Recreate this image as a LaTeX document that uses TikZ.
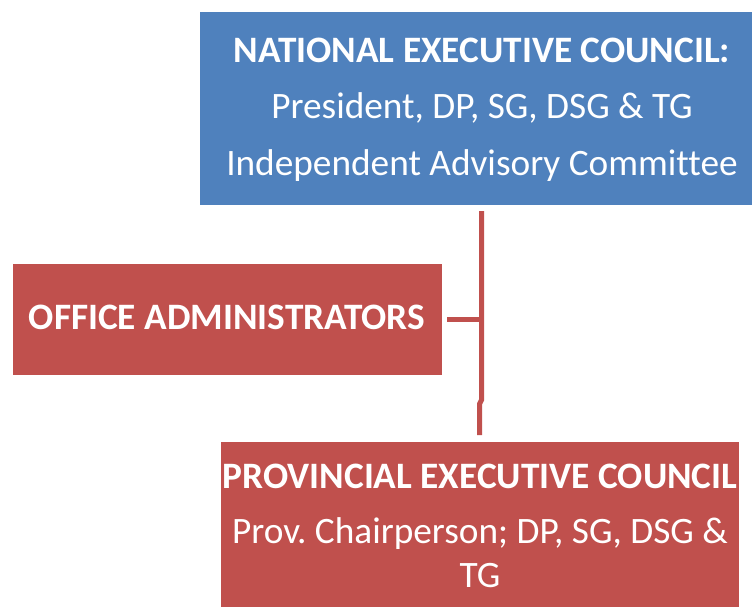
\documentclass[tikz,border=0pt]{standalone}
\usepackage{fontspec}
\setmainfont{Carlito}[Ligatures=NoCommon]
\frenchspacing
\definecolor{nblue}{HTML}{4F81BD}
\definecolor{nred}{HTML}{C0504D}
\begin{document}
\begin{tikzpicture}[x=1pt,y=-1pt,
  box/.style={draw=none, inner sep=0pt, outer sep=0pt, anchor=north west},
  bluebox/.style={box, fill=nblue},
  redbox/.style={box, fill=nred},
  txt/.style={anchor=base, text=white, inner sep=0pt, font=\fontsize{37.3}{44}\selectfont},
  txtb/.style={txt, font=\fontsize{37.3}{44}\selectfont\bfseries},
  conn/.style={draw=nred, line width=5pt}]
\useasboundingbox (0,0) rectangle (752,606);
\node[bluebox, minimum width=565pt, minimum height=193pt] (nec) at (200,12) {};
\node[redbox, minimum width=429pt, minimum height=111pt] (oa) at (13,264) {};
\node[redbox, minimum width=518pt, minimum height=175pt] (pec) at (221,442) {};
\node[txtb] (t1) at (482,62) {NATIONAL EXECUTIVE COUNCIL:};
\node[txt] (t2) at (482,118) {President, DP, SG, DSG \& TG};
\node[txt] (t3) at (482,175) {Independent Advisory Committee};
\node[txtb] (t4) at (227,329) {OFFICE ADMINISTRATORS};
\node[txtb] (t5) at (480,488) {PROVINCIAL EXECUTIVE COUNCIL};
\node[txt] (t6) at (480,543) {Prov. Chairperson; DP, SG, DSG \&};
\node[txt] (t7) at (480,587) {TG};
\coordinate (c1) at (481.5,211);
\coordinate (c2) at (481.5,400);
\coordinate (c3) at (479.5,404);
\coordinate (c4) at (479.5,435);
\coordinate (c5) at (447,319.5);
\coordinate (c6) at (481.5,319.5);
\draw[conn] (c1) -- (c2) -- (c3) -- (c4);
\draw[conn] (c5) -- (c6);
\end{tikzpicture}
\end{document}
